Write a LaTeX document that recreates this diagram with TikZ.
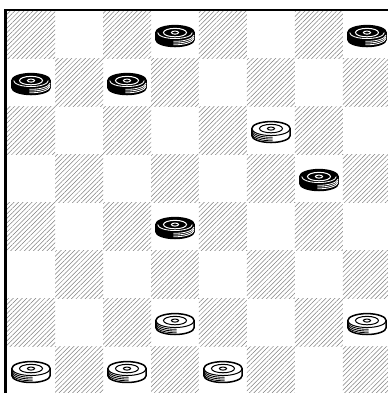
\documentclass[tikz,border=0pt]{standalone}
\usepackage{tikz}
\usetikzlibrary{patterns.meta}

\tikzset{
  wman/.pic={
    \fill[white] (-0.4,0.04) -- (-0.4,-0.105) arc[start angle=180, end angle=360, x radius=0.4, y radius=0.145]
      -- (0.4,0.04) arc[start angle=0, end angle=180, x radius=0.4, y radius=0.145] -- cycle;
    \draw[line width=0.9pt] (-0.4,0.04) -- (-0.4,-0.105) arc[start angle=180, end angle=360, x radius=0.4, y radius=0.145]
      -- (0.4,0.04) arc[start angle=0, end angle=180, x radius=0.4, y radius=0.145] -- cycle;
    \draw[line width=0.6pt] (-0.4,0.04) arc[start angle=180, end angle=360, x radius=0.4, y radius=0.145];
    \draw[line width=0.6pt] (0,0.04) ellipse [x radius=0.24, y radius=0.088];
    \draw[line width=0.6pt] (0,0.04) ellipse [x radius=0.075, y radius=0.032];
    \foreach \k in {1,2,3}
      \draw[line width=0.5pt] (-0.4,-0.105+\k*0.036) arc[start angle=180, end angle=275, x radius=0.4, y radius=0.145];
  },
  bman/.pic={
    \fill[black] (-0.4,0.04) -- (-0.4,-0.105) arc[start angle=180, end angle=360, x radius=0.4, y radius=0.145]
      -- (0.4,0.04) arc[start angle=0, end angle=180, x radius=0.4, y radius=0.145] -- cycle;
    \draw[line width=0.9pt] (-0.4,0.04) -- (-0.4,-0.105) arc[start angle=180, end angle=360, x radius=0.4, y radius=0.145]
      -- (0.4,0.04) arc[start angle=0, end angle=180, x radius=0.4, y radius=0.145] -- cycle;
    \draw[white, line width=0.5pt] (-0.36,0.04) arc[start angle=180, end angle=360, x radius=0.36, y radius=0.125];
    \draw[white, line width=0.6pt] (0,0.04) ellipse [x radius=0.24, y radius=0.088];
    \draw[white, line width=0.6pt] (0,0.04) ellipse [x radius=0.075, y radius=0.032];
    \foreach \k in {1,2,3}
      \draw[white, line width=0.5pt] (-0.035,-0.25+\k*0.036) arc[start angle=265, end angle=355, x radius=0.4, y radius=0.145];
  }
}

\begin{document}
\begin{tikzpicture}
  \useasboundingbox (-0.146,0.031) rectangle (7.9375,8.219);
  \clip (-0.146,0.031) rectangle (7.9375,8.219);

  \foreach \r in {0,...,7}
    \foreach \c in {0,...,7} {
      \pgfmathtruncatemacro{\odd}{mod(\r+\c,2)}
      \ifnum\odd=0
        \fill[pattern={Lines[angle=45, distance=1.9pt, line width=0.3pt]}, pattern color=black!50] (\c,7-\r) rectangle ++(1,1);
      \fi
    }

  \draw[line width=1.5pt] (-0.036,0) -- (-0.036,8.011) -- (8,8.011);

  \foreach \r/\c in {0/3, 0/7, 1/0, 1/2, 3/6, 4/3}
    \pic at (\c+0.5,7.5-\r) {bman};
  \foreach \r/\c in {2/5, 6/3, 6/7, 7/0, 7/2, 7/4}
    \pic at (\c+0.5,7.5-\r) {wman};
\end{tikzpicture}
\end{document}
